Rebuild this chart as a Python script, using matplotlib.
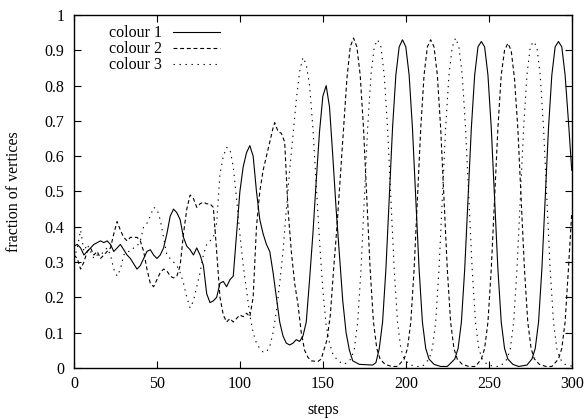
import matplotlib
matplotlib.use('Agg')
import matplotlib.pyplot as plt

# colour 1 (solid)
c1_steps = [0, 2, 4, 6, 8, 10, 12, 14, 16, 18, 20, 22, 24, 26, 28, 30, 32, 34, 36, 38,
            40, 42, 44, 46, 48, 50, 52, 54, 56, 58, 60, 62, 64, 66, 68, 70, 72, 74, 76, 78,
            80, 82, 84, 86, 88, 90, 92, 94, 96, 98, 100, 102, 104, 106, 108, 110, 112, 114,
            116, 118, 120, 122, 124, 126, 128, 130, 132, 134, 136, 138, 140, 142, 144, 146,
            148, 150, 152, 154, 156, 158, 160, 162, 164, 166, 168, 172, 180, 182, 184, 186,
            188, 190, 192, 194, 196, 198, 200, 202, 204, 206, 208, 210, 212, 214, 217, 221,
            225, 229.5, 231.5, 233.5, 235.5, 237.5, 239.5, 241.5, 243.5, 245.5, 247.5, 249.5,
            251.5, 253.5, 255.5, 257.5, 259.5, 261.5, 264.5, 268, 273, 276, 278, 280, 282,
            284, 286, 288, 290, 292, 294, 296, 298, 300]
c1_vals = [0.345, 0.35, 0.34, 0.32, 0.33, 0.34, 0.35, 0.355, 0.36, 0.355, 0.36, 0.35, 0.33,
           0.34, 0.35, 0.335, 0.32, 0.31, 0.295, 0.28, 0.29, 0.31, 0.33, 0.335, 0.32, 0.31,
           0.32, 0.34, 0.38, 0.43, 0.45, 0.44, 0.42, 0.37, 0.345, 0.335, 0.32, 0.34, 0.32,
           0.29, 0.21, 0.185, 0.19, 0.2, 0.24, 0.245, 0.23, 0.25, 0.26, 0.38, 0.5, 0.57, 0.61,
           0.63, 0.6, 0.5, 0.42, 0.38, 0.35, 0.33, 0.27, 0.2, 0.13, 0.09, 0.07, 0.065, 0.07,
           0.08, 0.075, 0.09, 0.13, 0.25, 0.38, 0.53, 0.67, 0.77, 0.80, 0.74, 0.6, 0.45, 0.32,
           0.19, 0.1, 0.05, 0.02, 0.01, 0.008, 0.015, 0.055, 0.13, 0.28, 0.48, 0.68, 0.83,
           0.91, 0.93, 0.91, 0.83, 0.68, 0.48, 0.28, 0.13, 0.055, 0.025, 0.01, 0.004, 0.004,
           0.025, 0.055, 0.13, 0.28, 0.48, 0.68, 0.83, 0.91, 0.925, 0.91, 0.83, 0.68, 0.48,
           0.28, 0.13, 0.055, 0.025, 0.01, 0.004, 0.008, 0.025, 0.055, 0.13, 0.28, 0.48,
           0.68, 0.83, 0.91, 0.925, 0.91, 0.83, 0.7, 0.56]

# colour 2 (dashed)
c2_steps = [0, 2, 4, 6, 8, 10, 12, 14, 16, 18, 20, 22, 24, 26, 28, 30, 32, 34, 36, 38,
            40, 42, 44, 46, 48, 50, 52, 54, 56, 58, 60, 62, 64, 66, 68, 70, 72, 74, 76, 78,
            80, 82, 84, 86, 88, 90, 92, 94, 96, 98, 100, 102, 104, 106, 108, 110, 112, 114,
            116, 118, 120, 121, 123, 125, 127, 129, 131, 133, 135, 137, 139, 141, 143, 147,
            149, 152.5, 154.5, 156.5, 158.5, 160.5, 162.5, 164.5, 166.5, 168.5, 170.5, 172.5,
            174.5, 176.5, 178.5, 180.5, 182.5, 184.5, 187.5, 191.5, 195, 199, 201, 203, 205,
            207, 209, 211, 213, 215, 217, 219, 221, 223, 225, 227, 229, 231, 234, 238, 242,
            245.5, 247.5, 249.5, 251.5, 253.5, 255.5, 257.5, 259.5, 261.5, 263.5, 265.5,
            267.5, 269.5, 271.5, 273.5, 275.5, 277.5, 280.5, 284.5, 288, 292, 294, 296, 298,
            300]
c2_vals = [0.32, 0.31, 0.28, 0.3, 0.33, 0.34, 0.32, 0.33, 0.31, 0.32, 0.33, 0.34, 0.38,
           0.415, 0.39, 0.37, 0.36, 0.37, 0.37, 0.37, 0.36, 0.33, 0.28, 0.24, 0.23, 0.25,
           0.27, 0.28, 0.275, 0.26, 0.255, 0.26, 0.29, 0.38, 0.45, 0.49, 0.48, 0.455, 0.465,
           0.47, 0.465, 0.465, 0.455, 0.33, 0.2, 0.15, 0.13, 0.14, 0.13, 0.14, 0.15, 0.145,
           0.155, 0.145, 0.2, 0.4, 0.5, 0.56, 0.6, 0.64, 0.68, 0.695, 0.67, 0.665, 0.64,
           0.45, 0.33, 0.24, 0.18, 0.1, 0.05, 0.03, 0.02, 0.018, 0.025, 0.08, 0.15, 0.28,
           0.4, 0.54, 0.68, 0.82, 0.91, 0.935, 0.91, 0.83, 0.68, 0.48, 0.28, 0.13, 0.055,
           0.025, 0.01, 0.004, 0.004, 0.025, 0.055, 0.13, 0.28, 0.48, 0.68, 0.83, 0.91, 0.93,
           0.91, 0.83, 0.68, 0.48, 0.28, 0.13, 0.055, 0.025, 0.01, 0.004, 0.004, 0.025,
           0.055, 0.13, 0.28, 0.48, 0.68, 0.83, 0.9, 0.92, 0.9, 0.82, 0.68, 0.48, 0.28, 0.13,
           0.055, 0.025, 0.01, 0.004, 0.004, 0.025, 0.055, 0.13, 0.28, 0.44]

# colour 3 (dotted)
c3_steps = [0, 2, 4, 6, 8, 10, 12, 14, 16, 18, 20, 22, 24, 26, 28, 30, 32, 34, 36, 38,
            40, 42, 44, 46, 48, 50, 52, 54, 56, 58, 60, 62, 64, 66, 68, 70, 72, 74, 76, 78,
            80, 82, 84, 86, 88, 90, 92, 94, 96, 98, 100, 102, 104, 106, 108, 110, 112, 114,
            116, 118, 120, 122, 124, 126, 128, 130, 132, 134, 136, 138, 140, 142, 144, 146,
            148, 150, 152, 154, 156, 159, 163, 167, 169, 171, 173, 175, 177, 179, 181, 183,
            185, 187, 189, 191, 193, 195, 197, 199, 202, 206, 210, 214, 216, 218, 220, 222,
            224, 226, 228, 230, 232, 234, 236, 238, 240, 242, 244, 246, 249, 253, 257, 261,
            263, 265, 267, 269, 271, 273, 275, 277, 279, 281, 283, 285, 287, 289, 291, 293,
            296, 300]
c3_vals = [0.31, 0.34, 0.39, 0.33, 0.35, 0.33, 0.31, 0.32, 0.32, 0.33, 0.34, 0.32, 0.28,
           0.26, 0.28, 0.32, 0.33, 0.33, 0.34, 0.345, 0.36, 0.4, 0.41, 0.43, 0.455, 0.45,
           0.42, 0.37, 0.32, 0.31, 0.3, 0.29, 0.27, 0.24, 0.2, 0.17, 0.19, 0.23, 0.27, 0.32,
           0.35, 0.36, 0.37, 0.41, 0.55, 0.6, 0.625, 0.62, 0.57, 0.48, 0.38, 0.29, 0.22,
           0.15, 0.1, 0.07, 0.055, 0.045, 0.045, 0.06, 0.1, 0.16, 0.24, 0.33, 0.45, 0.56,
           0.66, 0.76, 0.84, 0.88, 0.86, 0.8, 0.68, 0.52, 0.36, 0.22, 0.12, 0.07, 0.04, 0.02,
           0.01, 0.025, 0.055, 0.13, 0.28, 0.48, 0.68, 0.83, 0.91, 0.93, 0.91, 0.83, 0.68,
           0.48, 0.28, 0.13, 0.055, 0.025, 0.01, 0.004, 0.004, 0.025, 0.055, 0.13, 0.28,
           0.48, 0.68, 0.83, 0.91, 0.935, 0.91, 0.83, 0.68, 0.48, 0.28, 0.13, 0.055, 0.025,
           0.01, 0.004, 0.004, 0.025, 0.055, 0.13, 0.28, 0.48, 0.68, 0.83, 0.91, 0.925,
           0.91, 0.83, 0.68, 0.48, 0.28, 0.13, 0.055, 0.025, 0.01, 0.005]

labels = ['colour 1', 'colour 2', 'colour 3']
x_ticks = [0, 50, 100, 150, 200, 250, 300]
y_ticks = [0, 0.1, 0.2, 0.3, 0.4, 0.5, 0.6, 0.7, 0.8, 0.9, 1]
y_ticklabels = ['0', '0.1', '0.2', '0.3', '0.4', '0.5', '0.6', '0.7', '0.8', '0.9', '1']

plt.rcParams['font.family'] = ['Liberation Serif', 'DejaVu Serif']
plt.rcParams['font.size'] = 11.5

fig = plt.figure(figsize=(5.87, 4.19), dpi=100)
ax = fig.add_axes([0.126, 0.122, 0.848, 0.842])

ax.plot(c1_steps, c1_vals, color='black', lw=0.8, ls='-', label=labels[0])
ax.plot(c2_steps, c2_vals, color='black', lw=0.8, ls=(0, (3.5, 2.5)), label=labels[1])
ax.plot(c3_steps, c3_vals, color='black', lw=0.8, ls=(0, (1.2, 4.2)), label=labels[2])

ax.set_xlim(0, 300)
ax.set_ylim(0, 1)
ax.set_xticks(x_ticks)
ax.set_yticks(y_ticks)
ax.set_yticklabels(y_ticklabels)
ax.tick_params(direction='in', length=5, width=0.8, top=True, right=True)
ax.tick_params(axis='y', pad=7)
ax.tick_params(axis='x', pad=6)
for s in ax.spines.values():
    s.set_linewidth(1.0)

ax.set_xlabel('steps')
ax.set_ylabel('fraction of vertices')
ax.yaxis.set_label_coords(-0.104, 0.5)
ax.xaxis.set_label_coords(0.5, -0.098)

ax.legend(loc='upper left', bbox_to_anchor=(0.05, 1.0), frameon=False, markerfirst=False,
          handlelength=2.9, handletextpad=0.7, labelspacing=0.0, borderpad=0.15)

fig.savefig('out.png', dpi=100)
